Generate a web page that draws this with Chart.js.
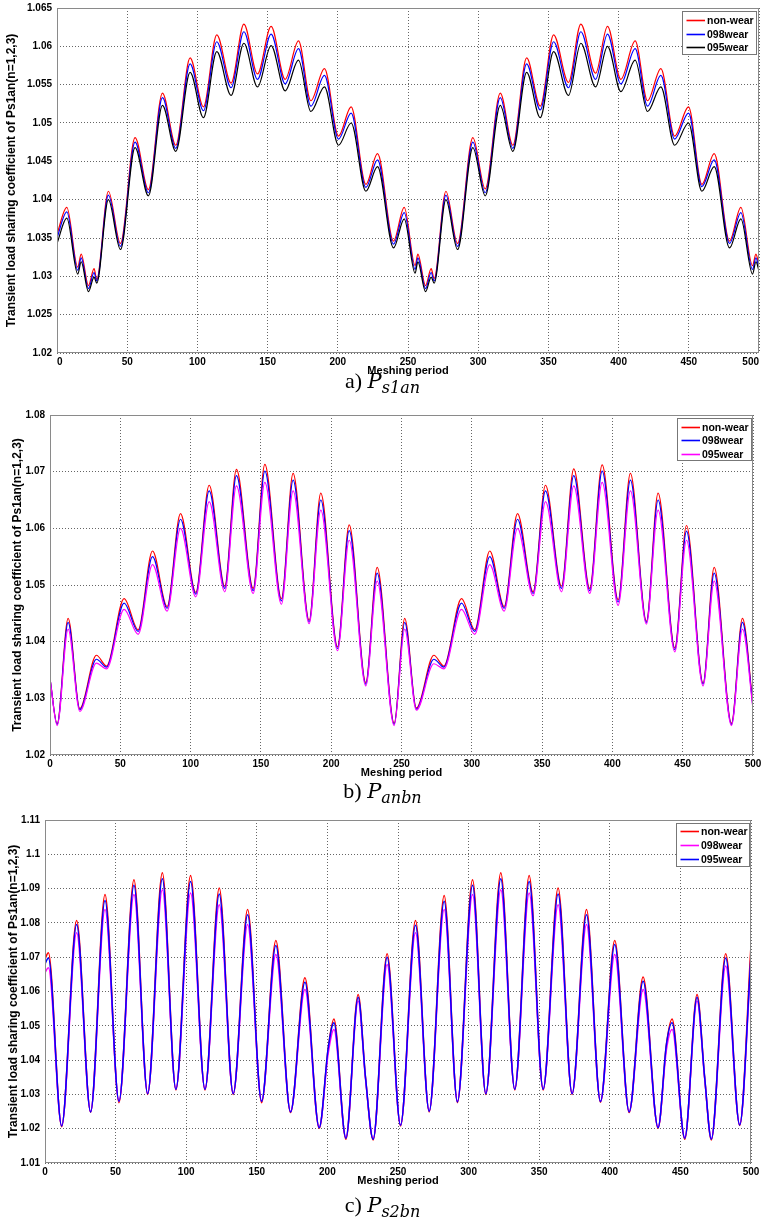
<!DOCTYPE html>
<html><head><meta charset="utf-8">
<script src="https://cdn.jsdelivr.net/npm/chart.js@4.4.0/dist/chart.umd.min.js"></script>
<style>
html,body{margin:0;padding:0;background:#fff;width:765px;height:1223px;overflow:hidden;}
.wrap{position:absolute;left:0;width:765px;}
canvas{display:block;}
.cap{position:absolute;left:0;width:765px;text-align:center;font-family:'Liberation Serif','DejaVu Serif',serif;font-size:22px;color:#000;line-height:26px;}
.cap i{font-style:italic;font-family:'DejaVu Serif',serif;font-size:21px;}
.cap sub{font-style:italic;font-family:'DejaVu Serif',serif;font-size:16px;vertical-align:-5px;line-height:0;}
</style></head><body>
<div class="wrap" style="top:0;height:378px"><canvas id="ca" width="765" height="378"></canvas></div>
<div class="cap" style="top:368px">a) <i>P</i><sub>s1an</sub></div>
<div class="wrap" style="top:400px;height:380px"><canvas id="cb" width="765" height="380"></canvas></div>
<div class="cap" style="top:778px">b) <i>P</i><sub>anbn</sub></div>
<div class="wrap" style="top:810px;height:378px"><canvas id="cc" width="765" height="378"></canvas></div>
<div class="cap" style="top:1192px">c) <i>P</i><sub>s2bn</sub></div>
<script>
const xTicks = [0,50,100,150,200,250,300,350,400,450,500];
const xTitle = 'Meshing period';
const yTitle = 'Transient load sharing coefficient of Ps1an(n=1,2,3)';
const seriesNames = ['non-wear','098wear','095wear'];

// ---------- Panel a ----------
const yTicksA = [1.02,1.025,1.03,1.035,1.04,1.045,1.05,1.055,1.06,1.065];
const yLabelsA = ['1.02','1.025','1.03','1.035','1.04','1.045','1.05','1.055','1.06','1.065'];
const xA = [0,7,14.8,17.2,22.4,26.4,28.3,36.6,45.2,55.6,65.1,75.1,84.6,94.8,104.3,113.8,124.0,133.1,142.8,152.5,162.5,172.0,180.8,190.5,200.5,209.5,220.0,228.3,239.7,247.3,255.1,257.0,262.5,266.5,268.6,277.0,285.3,296.2,305.0,315.7,324.7,334.5,344.2,353.7,364.3,373.1,383.6,392.1,401.6,411.8,420.6,430.1,439.9,449.8,459.3,468.1,479.0,487.1,495.4,497.8,500];
const nonWearA = [1.0355,1.0390,1.0312,1.0329,1.0288,1.0310,1.0296,1.0411,1.0343,1.0481,1.0413,1.0539,1.0471,1.0585,1.0521,1.0615,1.0552,1.0629,1.0564,1.0626,1.0557,1.0607,1.0529,1.0571,1.0483,1.0521,1.0420,1.0460,1.0346,1.0390,1.0314,1.0329,1.0288,1.0310,1.0297,1.0411,1.0343,1.0481,1.0414,1.0539,1.0471,1.0585,1.0522,1.0615,1.0553,1.0629,1.0565,1.0626,1.0557,1.0607,1.0529,1.0571,1.0483,1.0521,1.0420,1.0460,1.0346,1.0390,1.0314,1.0329,1.0314];
const wear098A = [1.0350,1.0384,1.0308,1.0324,1.0284,1.0305,1.0294,1.0406,1.0339,1.0475,1.0409,1.0533,1.0467,1.0577,1.0516,1.0606,1.0546,1.0619,1.0557,1.0616,1.0551,1.0597,1.0522,1.0562,1.0479,1.0513,1.0416,1.0452,1.0342,1.0383,1.0309,1.0324,1.0284,1.0305,1.0294,1.0406,1.0339,1.0475,1.0409,1.0533,1.0467,1.0577,1.0517,1.0606,1.0546,1.0619,1.0557,1.0616,1.0551,1.0597,1.0522,1.0562,1.0479,1.0513,1.0417,1.0452,1.0343,1.0383,1.0309,1.0324,1.0310];
const wear095A = [1.0343,1.0376,1.0303,1.0319,1.0280,1.0299,1.0291,1.0400,1.0335,1.0468,1.0405,1.0523,1.0463,1.0566,1.0507,1.0593,1.0536,1.0604,1.0547,1.0601,1.0542,1.0582,1.0515,1.0547,1.0471,1.0500,1.0411,1.0443,1.0337,1.0375,1.0304,1.0319,1.0280,1.0299,1.0291,1.0400,1.0335,1.0468,1.0405,1.0523,1.0463,1.0566,1.0507,1.0593,1.0536,1.0604,1.0547,1.0600,1.0541,1.0582,1.0515,1.0547,1.0471,1.0500,1.0411,1.0443,1.0337,1.0375,1.0303,1.0319,1.0307];

// ---------- Panel b ----------
const yTicksB = [1.02,1.03,1.04,1.05,1.06,1.07,1.08];
const yLabelsB = ['1.02','1.03','1.04','1.05','1.06','1.07','1.08'];
const xB = [0,5.1,12.9,21.2,33.0,40.2,52.7,62.7,72.9,83.3,92.8,103.7,113.2,124.3,132.6,144.5,152.8,164.6,172.9,184.3,192.6,204.5,212.8,224.6,232.7,244.8,252.3,260.6,273.0,280.1,292.7,302.1,312.8,323.0,332.5,343.6,352.4,363.8,372.5,383.9,392.7,404.1,412.8,424.2,432.5,444.4,452.7,464.5,472.4,484.7,492.5,500];
const nonWearB = [1.0335,1.0255,1.0441,1.0282,1.0376,1.0357,1.0476,1.0421,1.0560,1.0462,1.0626,1.0487,1.0676,1.0498,1.0704,1.0494,1.0713,1.0476,1.0697,1.0438,1.0662,1.0391,1.0606,1.0328,1.0531,1.0256,1.0441,1.0283,1.0376,1.0357,1.0476,1.0421,1.0560,1.0462,1.0626,1.0488,1.0676,1.0498,1.0705,1.0494,1.0712,1.0474,1.0697,1.0436,1.0662,1.0389,1.0605,1.0327,1.0531,1.0256,1.0441,1.0288];
const wear098B = [1.0335,1.0254,1.0434,1.0280,1.0369,1.0355,1.0468,1.0418,1.0550,1.0459,1.0616,1.0484,1.0666,1.0494,1.0693,1.0490,1.0701,1.0472,1.0685,1.0435,1.0650,1.0388,1.0596,1.0325,1.0521,1.0254,1.0434,1.0281,1.0369,1.0355,1.0468,1.0418,1.0550,1.0459,1.0616,1.0485,1.0666,1.0494,1.0693,1.0490,1.0701,1.0470,1.0685,1.0434,1.0650,1.0386,1.0595,1.0325,1.0521,1.0254,1.0434,1.0285];
const wear095B = [1.0335,1.0252,1.0422,1.0277,1.0362,1.0352,1.0457,1.0413,1.0536,1.0454,1.0600,1.0479,1.0647,1.0488,1.0675,1.0485,1.0681,1.0466,1.0666,1.0432,1.0632,1.0384,1.0579,1.0322,1.0507,1.0252,1.0422,1.0279,1.0361,1.0352,1.0457,1.0413,1.0536,1.0454,1.0600,1.0481,1.0647,1.0488,1.0675,1.0485,1.0681,1.0464,1.0666,1.0431,1.0632,1.0382,1.0579,1.0322,1.0507,1.0252,1.0422,1.0282];

// ---------- Panel c ----------
const yTicksC = [1.01,1.02,1.03,1.04,1.05,1.06,1.07,1.08,1.09,1.1,1.11];
const yLabelsC = ['1.01','1.02','1.03','1.04','1.05','1.06','1.07','1.08','1.09','1.1','1.11'];
const xC = [0,2.4,11.8,22.4,32.3,42.5,52.4,63.0,72.7,83.1,92.7,103.1,113.3,123.4,133.3,143.5,153.4,163.5,173.9,184.1,194.2,200.6,204.6,213.1,221.8,227.0,232.4,242.3,251.8,262.4,272.1,282.7,292.1,302.8,312.2,322.8,332.7,342.9,352.8,363.4,373.3,383.5,393.4,403.5,413.7,423.6,434.2,440.1,444.1,453.1,461.8,467.2,471.9,482.1,492.0,500];
const nonWearC = [1.0695,1.0713,1.0206,1.0807,1.0248,1.0883,1.0276,1.0926,1.0300,1.0946,1.0313,1.0938,1.0313,1.0902,1.0300,1.0839,1.0276,1.0749,1.0247,1.0640,1.0201,1.0436,1.0520,1.0169,1.0591,1.0349,1.0167,1.0710,1.0208,1.0807,1.0249,1.0880,1.0276,1.0926,1.0300,1.0946,1.0313,1.0938,1.0313,1.0902,1.0300,1.0839,1.0277,1.0749,1.0247,1.0642,1.0201,1.0446,1.0520,1.0169,1.0591,1.0349,1.0167,1.0710,1.0209,1.0735];
const wear098C = [1.0655,1.0669,1.0209,1.0771,1.0250,1.0839,1.0281,1.0883,1.0303,1.0897,1.0316,1.0887,1.0316,1.0853,1.0303,1.0795,1.0281,1.0708,1.0250,1.0606,1.0204,1.0420,1.0489,1.0174,1.0572,1.0345,1.0171,1.0679,1.0211,1.0771,1.0252,1.0839,1.0280,1.0883,1.0303,1.0897,1.0316,1.0887,1.0316,1.0853,1.0303,1.0795,1.0280,1.0708,1.0250,1.0606,1.0204,1.0430,1.0489,1.0174,1.0572,1.0345,1.0171,1.0674,1.0212,1.0690];
const wear095C = [1.0680,1.0698,1.0208,1.0795,1.0249,1.0865,1.0280,1.0910,1.0302,1.0929,1.0315,1.0921,1.0315,1.0884,1.0302,1.0824,1.0280,1.0734,1.0249,1.0627,1.0203,1.0436,1.0509,1.0172,1.0583,1.0349,1.0169,1.0700,1.0210,1.0793,1.0251,1.0863,1.0278,1.0910,1.0302,1.0929,1.0315,1.0921,1.0315,1.0884,1.0302,1.0824,1.0279,1.0737,1.0249,1.0630,1.0203,1.0446,1.0509,1.0172,1.0583,1.0349,1.0169,1.0698,1.0211,1.0705];

const FONT = "'Liberation Sans Narrow','Arial Narrow','Liberation Sans',Arial,sans-serif";

const boxLegend = {
  id: 'boxLegend',
  afterDraw(chart, args, o) {
    const ctx = chart.ctx, ca = chart.chartArea;
    ctx.save();
    ctx.strokeStyle = '#8a8a8a'; ctx.lineWidth = 1; ctx.setLineDash([]);
    ctx.strokeRect(Math.round(ca.left) + 0.5, Math.round(ca.top) + 0.5,
      Math.round(ca.right - ca.left) - 1, Math.round(ca.bottom - ca.top) - 1);
    const w = o.w, h = o.h;
    const x0 = Math.round(ca.right - o.dx - w) + 0.5, y0 = Math.round(ca.top + o.dy) + 0.5;
    ctx.fillStyle = '#fff'; ctx.fillRect(x0, y0, w, h);
    ctx.strokeStyle = '#777'; ctx.strokeRect(x0, y0, w, h);
    ctx.font = 'bold 10.5px ' + FONT; ctx.textBaseline = 'middle'; ctx.fillStyle = '#000';
    const items = chart.data.datasets.map((d, i) => ({d, i})).sort((a, b) => a.d.legendIndex - b.d.legendIndex);
    items.forEach((it, k) => {
      const ds = it.d;
      const yy = Math.round(y0 + o.rows[k]) + 0.5;
      ctx.strokeStyle = ds.borderColor; ctx.lineWidth = 1.6;
      ctx.beginPath(); ctx.moveTo(x0 + 4, yy); ctx.lineTo(x0 + 22.5, yy); ctx.stroke();
      ctx.fillText(ds.label, x0 + 24.5, yy + 0.5);
    });
    ctx.restore();
  }
};

function pts(xs, ys) { return xs.map((x, i) => ({x: x, y: ys[i]})); }

function makeChart(id, cfg) {
  const ds = cfg.series.map((s, i) => ({
    label: seriesNames[i], data: pts(cfg.x, s), borderColor: cfg.colors[i],
    borderWidth: cfg.lw, order: cfg.orders[i], legendIndex: i,
    pointRadius: 0, fill: false, cubicInterpolationMode: 'monotone'
  }));
  return new Chart(document.getElementById(id), {
    type: 'line',
    data: {datasets: ds},
    plugins: [boxLegend],
    options: {
      responsive: false, animation: false, devicePixelRatio: 1,
      layout: {padding: {top: cfg.pt, right: cfg.pr, left: 0, bottom: 0}},
      plugins: {legend: {display: false}, tooltip: {enabled: false}, boxLegend: cfg.legend},
      scales: {
        x: {
          type: 'linear', min: 0, max: 500,
          afterBuildTicks: s => { s.ticks = xTicks.map(v => ({value: v})); },
          afterFit: s => { s.height = 25; s.paddingLeft = 0; s.paddingRight = 0; },
          ticks: {color: '#000', font: {family: FONT, size: 10, weight: 'bold'}, padding: 3, maxRotation: 0, autoSkip: false,
                  align: cfg.xAlign, callback: v => String(v)},
          grid: {color: '#666', lineWidth: 1, drawTicks: false},
          border: {display: false, dash: [1, 2]},
          title: {display: true, text: xTitle, color: '#000', font: {family: FONT, size: 11, weight: 'bold'}, padding: {top: 0, bottom: 0}}
        },
        y: {
          type: 'linear', min: cfg.yTicks[0], max: cfg.yTicks[cfg.yTicks.length - 1],
          afterBuildTicks: s => { s.ticks = cfg.yTicks.map(v => ({value: v})); },
          afterFit: s => { s.width = cfg.yw; s.paddingTop = 0; s.paddingBottom = 0; },
          ticks: {color: '#000', font: {family: FONT, size: 10, weight: 'bold'}, padding: 5, autoSkip: false,
                  callback: (v, i) => cfg.yLabels[i]},
          grid: {color: '#666', lineWidth: 1, drawTicks: false},
          border: {display: false, dash: [1, 2]},
          title: {display: true, text: yTitle, color: '#000', font: {family: FONT, size: 12, weight: 'bold'}, padding: {top: cfg.tp, bottom: 0}}
        }
      }
    }
  });
}

makeChart('ca', {
  x: xA, series: [nonWearA, wear098A, wear095A],
  colors: ['#ff0000', '#0000ff', '#000000'], orders: [2, 1, 0], lw: 1.2, xAlign: 'inner',
  yTicks: yTicksA, yLabels: yLabelsA, yw: 57, pt: 8, pr: 6, tp: 4,
  legend: {w: 74, h: 43, dx: 3, dy: 3, rows: [8.5, 22, 35]}
});
makeChart('cb', {
  x: xB, series: [nonWearB, wear098B, wear095B],
  colors: ['#ff0000', '#0000ff', '#ff00ff'], orders: [2, 1, 0], lw: 1.2, xAlign: 'center',
  yTicks: yTicksB, yLabels: yLabelsB, yw: 50, pt: 15, pr: 12, tp: 10,
  legend: {w: 74, h: 42, dx: 2.3, dy: 2.7, rows: [8.3, 21.6, 35]}
});
makeChart('cc', {
  x: xC, series: [nonWearC, wear098C, wear095C],
  colors: ['#ff0000', '#ff00ff', '#0000ff'], orders: [2, 1, 0], lw: 1.5, xAlign: 'center',
  yTicks: yTicksC, yLabels: yLabelsC, yw: 45, pt: 10, pr: 14, tp: 6,
  legend: {w: 73, h: 43, dx: 2.3, dy: 3.3, rows: [7.7, 21.7, 35]}
});
</script>
</body></html>
